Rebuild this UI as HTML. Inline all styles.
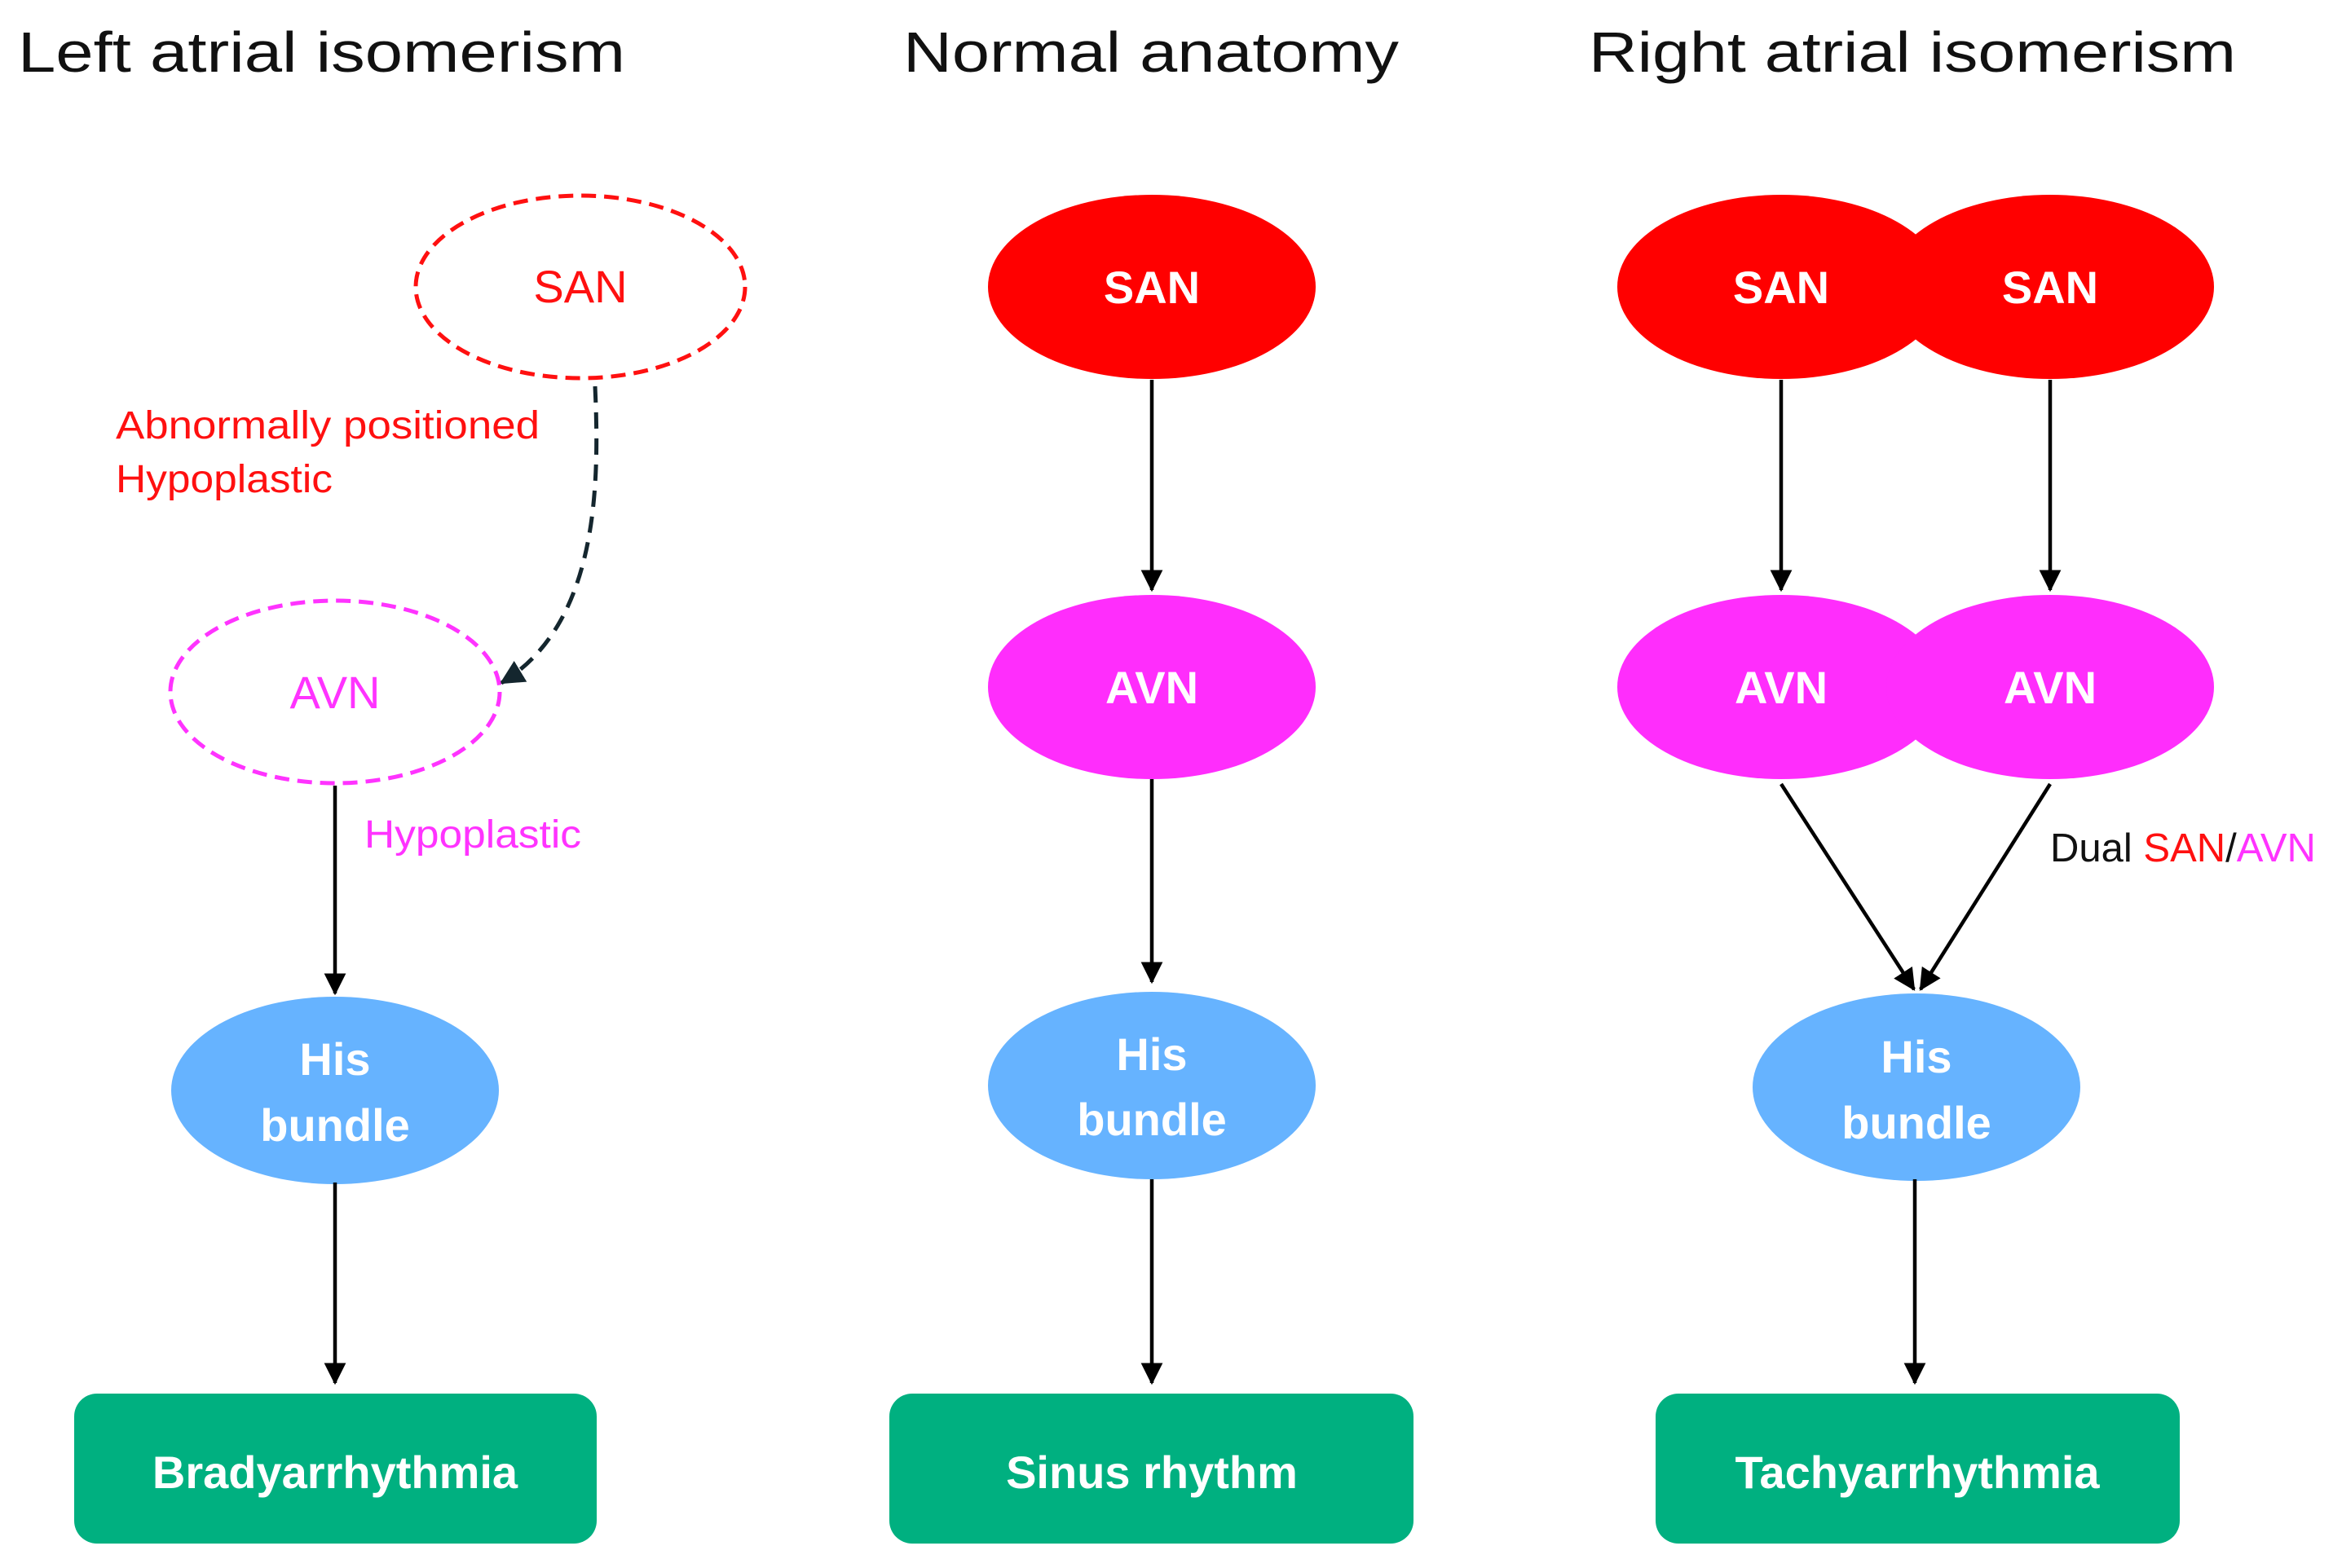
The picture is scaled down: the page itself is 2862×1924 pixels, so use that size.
<!DOCTYPE html>
<html><head><meta charset="utf-8"><style>html,body{margin:0;padding:0;background:#fff}svg{display:block}</style></head>
<body>
<svg width="2862" height="1924" viewBox="0 0 2862 1924" xmlns="http://www.w3.org/2000/svg" font-family="'Liberation Sans', sans-serif">
<defs>
<marker id="ah" markerWidth="6" markerHeight="6" refX="5.5" refY="3" orient="auto" markerUnits="strokeWidth"><path d="M0,0 L6,3 L0,6 z" fill="#000"/></marker>
<marker id="ahd" markerWidth="6" markerHeight="6" refX="5.5" refY="3" orient="auto" markerUnits="strokeWidth"><path d="M0,0 L6,3 L0,6 z" fill="#14262e"/></marker>
</defs>
<g font-size="70" fill="#111">
<text x="22" y="88" textLength="745" lengthAdjust="spacingAndGlyphs">Left atrial isomerism</text>
<text x="1108" y="88" textLength="608" lengthAdjust="spacingAndGlyphs">Normal anatomy</text>
<text x="1949" y="88" textLength="794" lengthAdjust="spacingAndGlyphs">Right atrial isomerism</text>
</g>
<!-- Left column -->
<ellipse cx="712" cy="352" rx="202" ry="112" fill="none" stroke="#ff1010" stroke-width="5" stroke-dasharray="18,10"/>
<text x="712" y="371" font-size="56" fill="#ff1010" text-anchor="middle">SAN</text>
<path d="M730,474 C736,602 732,767 615,838" fill="none" stroke="#14262e" stroke-width="5" stroke-dasharray="20,12" marker-end="url(#ahd)"/>
<g font-size="48" fill="#ff1010">
<text x="142" y="538" textLength="520" lengthAdjust="spacingAndGlyphs">Abnormally positioned</text>
<text x="142" y="604" textLength="266" lengthAdjust="spacingAndGlyphs">Hypoplastic</text>
</g>
<ellipse cx="411" cy="849" rx="202" ry="112" fill="none" stroke="#ff33ff" stroke-width="5" stroke-dasharray="18,10"/>
<text x="411" y="869" font-size="56" fill="#ff33ff" text-anchor="middle">AVN</text>
<line x1="411" y1="964" x2="411" y2="1219" stroke="#000" stroke-width="4.5" marker-end="url(#ah)"/>
<text x="447" y="1040" font-size="48" fill="#ff33ff" textLength="266" lengthAdjust="spacingAndGlyphs">Hypoplastic</text>
<ellipse cx="411" cy="1338" rx="201" ry="115" fill="#66b3ff"/>
<g font-size="56" fill="#fff" font-weight="bold" text-anchor="middle">
<text x="411" y="1319">His</text><text x="411" y="1400">bundle</text></g>
<line x1="411" y1="1451" x2="411" y2="1697" stroke="#000" stroke-width="4.5" marker-end="url(#ah)"/>
<rect x="91" y="1710" width="641" height="184" rx="28" fill="#00b080"/>
<text x="411" y="1826" font-size="56" fill="#fff" font-weight="bold" text-anchor="middle">Bradyarrhythmia</text>
<!-- Middle -->
<ellipse cx="1413" cy="352" rx="201" ry="113" fill="#ff0000"/>
<text x="1413" y="372" font-size="56" fill="#fff" font-weight="bold" text-anchor="middle">SAN</text>
<line x1="1413" y1="466" x2="1413" y2="724" stroke="#000" stroke-width="4.5" marker-end="url(#ah)"/>
<ellipse cx="1413" cy="843" rx="201" ry="113" fill="#ff2dfc"/>
<text x="1413" y="863" font-size="56" fill="#fff" font-weight="bold" text-anchor="middle">AVN</text>
<line x1="1413" y1="956" x2="1413" y2="1205" stroke="#000" stroke-width="4.5" marker-end="url(#ah)"/>
<ellipse cx="1413" cy="1332" rx="201" ry="115" fill="#66b3ff"/>
<g font-size="56" fill="#fff" font-weight="bold" text-anchor="middle">
<text x="1413" y="1313">His</text><text x="1413" y="1393">bundle</text></g>
<line x1="1413" y1="1447" x2="1413" y2="1697" stroke="#000" stroke-width="4.5" marker-end="url(#ah)"/>
<rect x="1091" y="1710" width="643" height="184" rx="28" fill="#00b080"/>
<text x="1413" y="1826" font-size="56" fill="#fff" font-weight="bold" text-anchor="middle">Sinus rhythm</text>
<!-- Right -->
<ellipse cx="2185" cy="352" rx="201" ry="113" fill="#ff0000"/>
<ellipse cx="2515" cy="352" rx="201" ry="113" fill="#ff0000"/>
<text x="2185" y="372" font-size="56" fill="#fff" font-weight="bold" text-anchor="middle">SAN</text>
<text x="2515" y="372" font-size="56" fill="#fff" font-weight="bold" text-anchor="middle">SAN</text>
<line x1="2185" y1="466" x2="2185" y2="724" stroke="#000" stroke-width="4.5" marker-end="url(#ah)"/>
<line x1="2515" y1="466" x2="2515" y2="724" stroke="#000" stroke-width="4.5" marker-end="url(#ah)"/>
<ellipse cx="2185" cy="843" rx="201" ry="113" fill="#ff2dfc"/>
<ellipse cx="2515" cy="843" rx="201" ry="113" fill="#ff2dfc"/>
<text x="2185" y="863" font-size="56" fill="#fff" font-weight="bold" text-anchor="middle">AVN</text>
<text x="2515" y="863" font-size="56" fill="#fff" font-weight="bold" text-anchor="middle">AVN</text>
<line x1="2185" y1="962" x2="2348" y2="1214" stroke="#000" stroke-width="4.5" marker-end="url(#ah)"/>
<line x1="2515" y1="962" x2="2356" y2="1214" stroke="#000" stroke-width="4.5" marker-end="url(#ah)"/>
<text x="2515" y="1057" font-size="49" fill="#111">Dual <tspan fill="#ff1010">SAN</tspan>/<tspan fill="#ff33ff">AVN</tspan></text>
<ellipse cx="2351" cy="1334" rx="201" ry="115" fill="#66b3ff"/>
<g font-size="56" fill="#fff" font-weight="bold" text-anchor="middle">
<text x="2351" y="1316">His</text><text x="2351" y="1397">bundle</text></g>
<line x1="2349" y1="1447" x2="2349" y2="1697" stroke="#000" stroke-width="4.5" marker-end="url(#ah)"/>
<rect x="2031" y="1710" width="643" height="184" rx="28" fill="#00b080"/>
<text x="2352" y="1826" font-size="56" fill="#fff" font-weight="bold" text-anchor="middle">Tachyarrhythmia</text>
</svg>
</body></html>
